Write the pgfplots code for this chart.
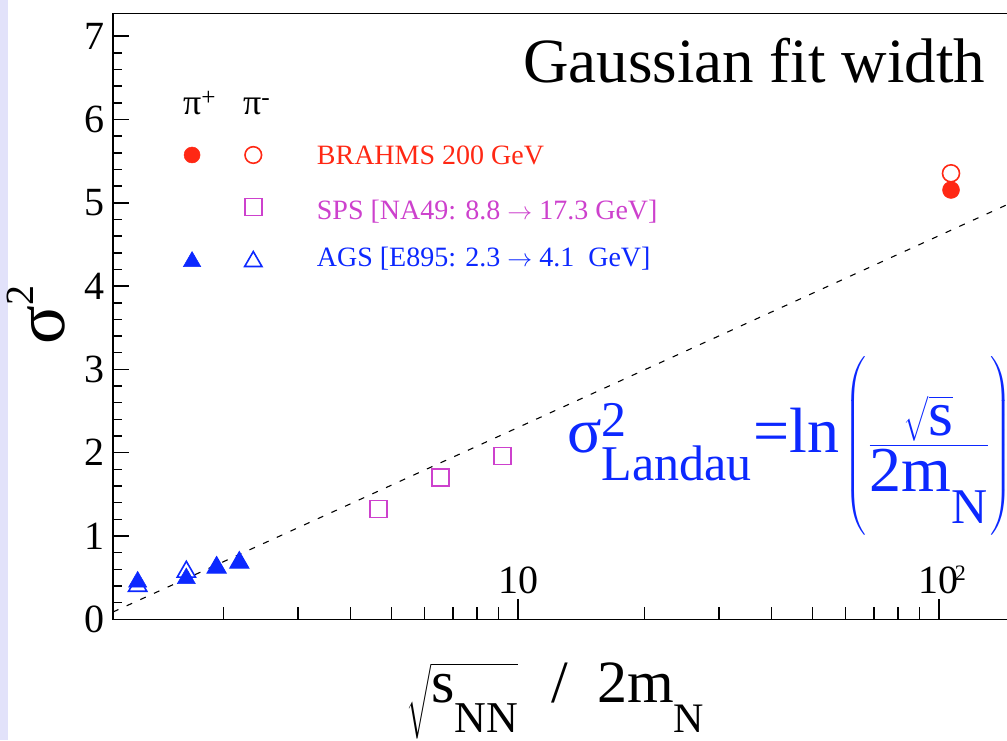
\documentclass[border=0pt]{standalone}
\usepackage{amsmath}
\usepackage{fontspec}
\setmainfont{Liberation Serif}
\usepackage{pgfplots}
\pgfplotsset{compat=1.18}

\definecolor{rootred}{RGB}{255,40,20}
\definecolor{rootmag}{RGB}{205,65,205}
\definecolor{rootblue}{RGB}{12,40,255}
\definecolor{lav}{RGB}{226,226,250}

\newcommand{\fs}[1]{\fontsize{#1}{#1}\selectfont}

\begin{document}
\begin{tikzpicture}
\useasboundingbox (-113pt,-120.7pt) rectangle (894pt,619.3pt);
\fill[lav] (-113pt,-120.7pt) rectangle (-105pt,619.3pt);
\clip (-113pt,-120.7pt) rectangle (894pt,619.3pt);
\begin{axis}[
  scale only axis, width=899pt, height=606pt,
  xmode=log, log basis x=10,
  xmin=1.0914, xmax=149.1, ymin=0, ymax=7.275,
  xtick={10,100},
  xticklabels={10,10\rlap{\kern-4pt\raisebox{13pt}{\fs{22}2}}},
  minor xtick={2,3,4,5,6,7,8,9,20,30,40,50,60,70,80,90},
  ytick={0,1,2,3,4,5,6,7}, minor y tick num=4,
  tick pos=left, tick align=inside,
  axis line style={line width=1.5pt},
  every tick/.style={black, line width=1.5pt},
  xtick style={/pgfplots/major tick length=20pt, /pgfplots/minor tick length=12pt},
  ytick style={/pgfplots/major tick length=16pt, /pgfplots/minor tick length=9pt},
  /pgf/number format/assume math mode=true,
  tick label style={font=\fs{40}},
  xticklabel style={anchor=base, yshift=26pt},
  yticklabel style={inner sep=0pt, xshift=-8pt},
]
% ln(sqrt(s)/2m_N) is a straight line on a log x axis
\addplot[black, line width=1.1pt, dash pattern=on 6pt off 9pt] coordinates {(1.0914,0.0875) (149.1,5.0046)};

% AGS E895
\addplot[only marks, mark=triangle, mark size=10.5pt, rootblue, mark options={line width=1.6pt}]
  coordinates {(1.249,0.40) (1.630,0.57) (1.924,0.62) (2.178,0.68)};
\addplot[only marks, mark=triangle*, mark size=10.5pt, rootblue, mark options={line width=0.5pt}]
  coordinates {(1.249,0.45) (1.630,0.49) (1.924,0.62) (2.178,0.68)};

% SPS NA49
\addplot[only marks, mark=square, mark size=8.5pt, rootmag, mark options={line width=1.6pt}]
  coordinates {(4.658,1.324) (6.55,1.705) (9.20,1.960)};

% BRAHMS
\addplot[only marks, mark=*, mark size=8.5pt, rootred, mark options={line width=0.5pt}]
  coordinates {(106.8,5.154)};
\addplot[only marks, mark=o, mark size=8.5pt, rootred, mark options={line width=1.6pt}]
  coordinates {(106.8,5.354)};

% key markers
\addplot[only marks, mark=*, mark size=8pt, rootred, mark options={line width=0.5pt}]
  coordinates {(1.682,5.574)};
\addplot[only marks, mark=o, mark size=8.3pt, rootred, mark options={line width=1.6pt}]
  coordinates {(2.351,5.574)};
\addplot[only marks, mark=square, mark size=8.5pt, rootmag, mark options={line width=1.6pt}]
  coordinates {(2.351,4.951)};
\addplot[only marks, mark=triangle*, mark size=10pt, rootblue, mark options={line width=0.5pt}]
  coordinates {(1.682,4.295)};
\addplot[only marks, mark=triangle, mark size=10pt, rootblue, mark options={line width=1.6pt}]
  coordinates {(2.351,4.295)};
\end{axis}

% key
\node[anchor=base west, inner sep=0pt, font=\fs{36}] at (70pt,504.3pt) {π\textsuperscript{+}};
\node[anchor=base west, inner sep=0pt, font=\fs{36}] at (130pt,504.3pt) {π\textsuperscript{-}};
\node[anchor=base west, inner sep=0pt, text=rootred, font=\fs{28}] at (203.7pt,454.3pt) {BRAHMS 200 GeV};
\node[anchor=base west, inner sep=0pt, text=rootmag, font=\fs{28}] at (203.7pt,399.3pt) {SPS [NA49: 8.8 $\rightarrow$ 17.3 GeV]};
\node[anchor=base west, inner sep=0pt, text=rootblue, font=\fs{28}] at (203.7pt,352.3pt) {AGS [E895: 2.3 $\rightarrow$ 4.1\ \ GeV]};

% title
\node[anchor=base west, inner sep=0pt, font=\fs{63}] at (410pt,536.3pt) {Gaussian fit width};

% Landau formula
\node[anchor=base west, inner sep=0pt, text=rootblue, font=\fs{64}] at (454pt,167.3pt)
  {$\mbox{σ\rlap{\raisebox{0.24em}{\fs{50}2}}\raisebox{-0.45em}{\fs{50}Landau}\kern2pt=ln}\kern1pt\left(\vrule height 96pt depth 74pt width 0pt\kern2pt\dfrac{\sqrt{\mbox{s}}}{\mbox{2m\raisebox{-0.5em}{\fs{50}N}}}\kern2pt\right)$};

% axis titles
\node[anchor=base west, inner sep=0pt, font=\fs{60}] at (293pt,-82.7pt)
  {$\sqrt{\mbox{s\raisebox{-0.5em}{\fs{44}NN}}}$};
\node[anchor=base west, inner sep=0pt, font=\fs{60}] at (438pt,-82.7pt) {/};
\node[anchor=base west, inner sep=0pt, font=\fs{60}] at (484pt,-82.7pt)
  {2m\raisebox{-0.5em}{\fs{42}N}};
\node[anchor=base west, inner sep=0pt, rotate=90, font=\fs{72}] at (-48pt,274.3pt)
  {σ\raisebox{0.44em}{\fs{40}2}};
\end{tikzpicture}
\end{document}
